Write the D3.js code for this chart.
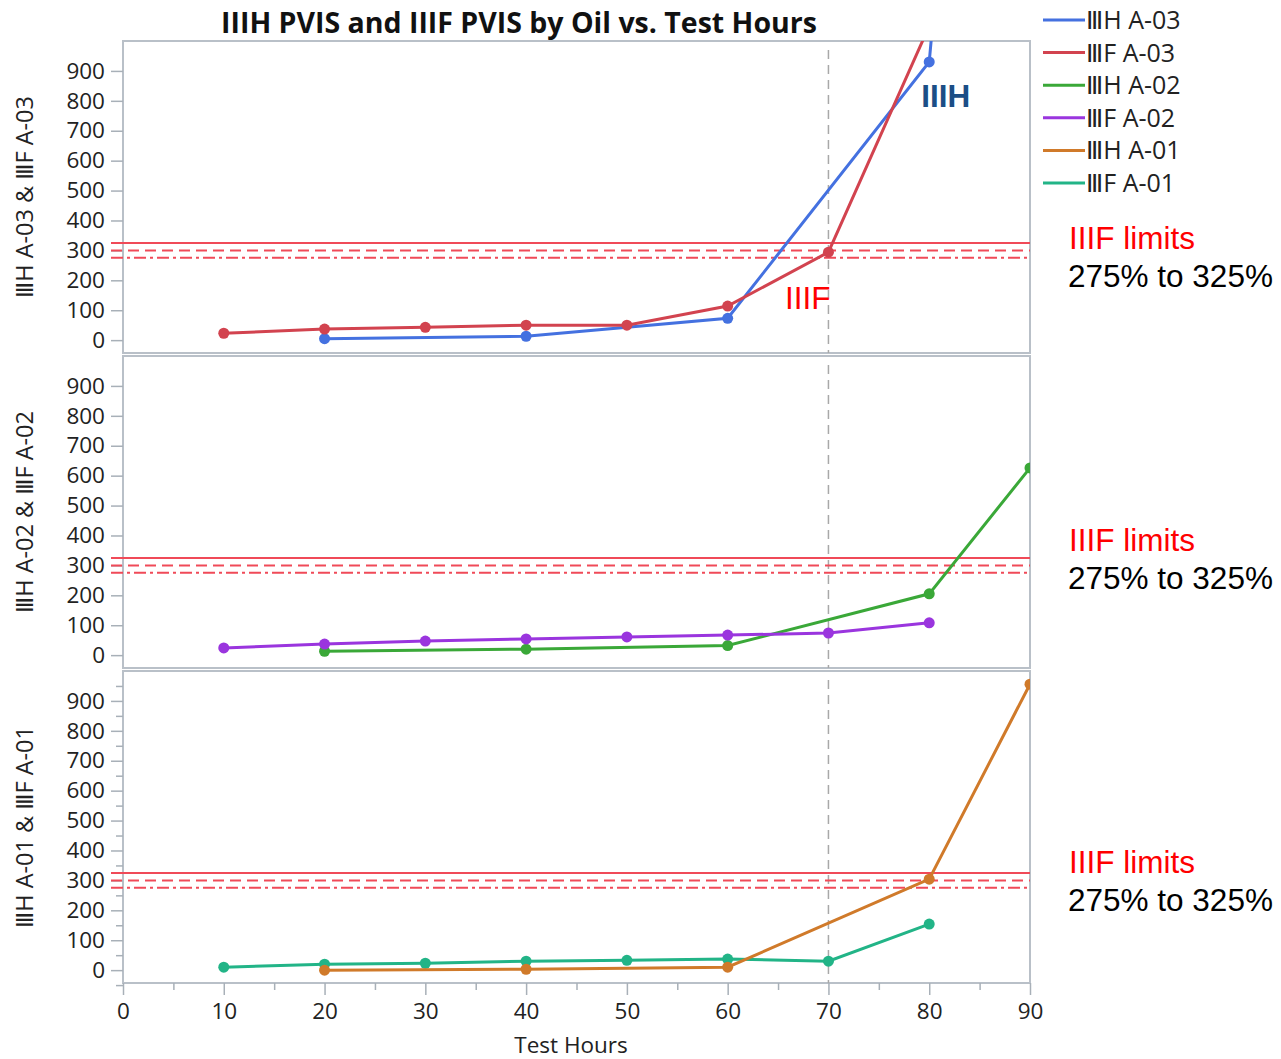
<!DOCTYPE html>
<html>
<head>
<meta charset="utf-8">
<script src="https://cdn.jsdelivr.net/npm/d3@7"></script>
<style>
  body { margin: 0; background: #fff; }
  svg { display: block; }
</style>
</head>
<body>
<div id="chart"></div>
<script>
// Data (Test Hours vs. PVIS %)
const title = 'IIIH PVIS and IIIF PVIS by Oil vs. Test Hours'
const xTicks = [0, 10, 20, 30, 40, 50, 60, 70, 80, 90]
const yTicks = [0, 100, 200, 300, 400, 500, 600, 700, 800, 900]
const limitValues = [325, 300, 275]

const iiihA03Hours = [20, 40, 60, 80, 81]
const iiihA03Values = [5, 13, 73, 930, 1300]
const iiifA03Hours = [10, 20, 30, 40, 50, 60, 70, 80]
const iiifA03Values = [23, 37, 43, 50, 50, 114, 294, 1050]

const iiihA02Hours = [20, 40, 60, 80, 90]
const iiihA02Values = [13, 20, 32, 205, 626]
const iiifA02Hours = [10, 20, 30, 40, 50, 60, 70, 80]
const iiifA02Values = [24, 37, 47, 54, 61, 67, 74, 108]

const iiihA01Hours = [20, 40, 60, 80, 90]
const iiihA01Values = [0, 3, 10, 304, 956]
const iiifA01Hours = [10, 20, 30, 40, 50, 60, 70, 80]
const iiifA01Values = [10, 20, 23, 30, 33, 37, 30, 154]

const seriesNames = ['ⅢH A-03', 'ⅢF A-03', 'ⅢH A-02', 'ⅢF A-02', 'ⅢH A-01', 'ⅢF A-01']
const seriesColors = ['#4471e0', '#d2434f', '#3aa838', '#9a35de', '#d07a2a', '#22b487']

const zip = (xs, ys) => xs.map((x, i) => ({ x, y: ys[i] }))

const panels = [
  { label: 'ⅢH A-03 & ⅢF A-03', minor: false, noteShift: 0,
    series: [{ data: zip(iiihA03Hours, iiihA03Values), color: seriesColors[0] },
             { data: zip(iiifA03Hours, iiifA03Values), color: seriesColors[1] }] },
  { label: 'ⅢH A-02 & ⅢF A-02', minor: false, noteShift: -13,
    series: [{ data: zip(iiihA02Hours, iiihA02Values), color: seriesColors[2] },
             { data: zip(iiifA02Hours, iiifA02Values), color: seriesColors[3] }] },
  { label: 'ⅢH A-01 & ⅢF A-01', minor: true, noteShift: -6,
    series: [{ data: zip(iiifA01Hours, iiifA01Values), color: seriesColors[5] },
             { data: zip(iiihA01Hours, iiihA01Values), color: seriesColors[4] }] }
]

const width = 1281
const height = 1059
const left = 123
const right = 1030
const panelTops = [41, 356, 671]
const panelHeight = 312
const font = '"Open Sans", "DejaVu Sans", sans-serif'
const arial = '"Liberation Sans", Arial, sans-serif'

const svg = d3.select('#chart')
  .append('svg')
  .attr('width', width)
  .attr('height', height)
  .style('font-family', font)

const x = d3.scaleLinear().domain([0, 90]).range([left, right])

// Title
svg.append('text')
  .attr('x', 519)
  .attr('y', 33)
  .attr('text-anchor', 'middle')
  .attr('font-size', '28.5px')
  .attr('font-weight', 'bold')
  .attr('fill', '#111')
  .text(title)

const defs = svg.append('defs')

panels.forEach((p, i) => {
  const top = panelTops[i]
  const bottom = top + panelHeight
  const y = d3.scaleLinear().domain([-43, 1000]).range([bottom, top])
  const g = svg.append('g')

  defs.append('clipPath')
    .attr('id', 'clip' + i)
    .append('rect')
    .attr('x', left)
    .attr('y', top)
    .attr('width', right - left)
    .attr('height', panelHeight)

  // Frame
  g.append('rect')
    .attr('x', left)
    .attr('y', top)
    .attr('width', right - left)
    .attr('height', panelHeight)
    .attr('fill', 'none')
    .attr('stroke', '#b9c0c8')
    .attr('stroke-width', 2)

  // Y axis
  const yAxis = g.append('g')
    .attr('transform', `translate(${left},0)`)
    .call(d3.axisLeft(y).tickValues(yTicks).tickSize(12).tickPadding(6))
  yAxis.select('.domain').remove()
  yAxis.selectAll('line').attr('stroke', '#a8b0b8').attr('stroke-width', 1.5)
  yAxis.selectAll('text')
    .attr('font-size', '22.5px')
    .attr('font-family', font)
    .attr('fill', '#222')

  if (p.minor) {
    const minorAxis = g.append('g')
      .attr('transform', `translate(${left},0)`)
      .call(d3.axisLeft(y).tickValues(d3.range(-50, 1000, 100)).tickSize(7).tickFormat(''))
    minorAxis.select('.domain').remove()
    minorAxis.selectAll('line').attr('stroke', '#a8b0b8').attr('stroke-width', 1.5)
  }

  // Y label
  svg.append('text')
    .attr('transform', `translate(33,${top + panelHeight / 2}) rotate(-90)`)
    .attr('text-anchor', 'middle')
    .attr('font-size', '23.5px')
    .attr('fill', '#222')
    .text(p.label)

  // Reference line at 70 hours
  g.append('line')
    .attr('x1', x(70))
    .attr('x2', x(70))
    .attr('y1', top + 9)
    .attr('y2', bottom)
    .attr('stroke', '#a8a8a8')
    .attr('stroke-width', 1.5)
    .attr('stroke-dasharray', '9,6')

  // IIIF limit lines
  const limitDash = [null, '11,6', '12,4,3,4']
  limitValues.forEach((v, k) => {
    g.append('line')
      .attr('x1', left - 12)
      .attr('x2', right)
      .attr('y1', y(v))
      .attr('y2', y(v))
      .attr('stroke', '#f04a58')
      .attr('stroke-width', 2)
      .attr('stroke-dasharray', limitDash[k])
  })

  // Series
  const plot = g.append('g').attr('clip-path', `url(#clip${i})`)
  const line = d3.line().x(d => x(d.x)).y(d => y(d.y))
  p.series.forEach(s => {
    plot.append('path')
      .datum(s.data)
      .attr('fill', 'none')
      .attr('stroke', s.color)
      .attr('stroke-width', 3)
      .attr('d', line)
    plot.selectAll(null)
      .data(s.data.filter(d => d.y <= 1000))
      .enter()
      .append('circle')
      .attr('cx', d => x(d.x))
      .attr('cy', d => y(d.y))
      .attr('r', 5.5)
      .attr('fill', s.color)
  })

  // Limit annotation
  svg.append('text')
    .attr('x', 1069)
    .attr('y', y(300) - 1 + p.noteShift)
    .attr('font-family', arial)
    .attr('font-size', '31.5px')
    .attr('fill', '#ff0000')
    .text('IIIF limits')
  svg.append('text')
    .attr('x', 1068)
    .attr('y', y(300) + 37 + p.noteShift)
    .attr('font-family', arial)
    .attr('font-size', '31.5px')
    .attr('fill', '#000')
    .text('275% to 325%')
})

// X axis on bottom panel
const xBottom = panelTops[2] + panelHeight
const xAxis = svg.append('g')
  .attr('transform', `translate(0,${xBottom})`)
  .call(d3.axisBottom(x).tickValues(xTicks).tickSize(12).tickPadding(8))
xAxis.select('.domain').remove()
xAxis.selectAll('line').attr('stroke', '#a8b0b8').attr('stroke-width', 1.5)
xAxis.selectAll('text')
  .attr('font-size', '22.5px')
  .attr('font-family', font)
  .attr('fill', '#222')
const xMinor = svg.append('g')
  .attr('transform', `translate(0,${xBottom})`)
  .call(d3.axisBottom(x).tickValues(d3.range(5, 90, 10)).tickSize(7).tickFormat(''))
xMinor.select('.domain').remove()
xMinor.selectAll('line').attr('stroke', '#a8b0b8').attr('stroke-width', 1.5)

svg.append('text')
  .attr('x', 571)
  .attr('y', 1053)
  .attr('text-anchor', 'middle')
  .attr('font-size', '22.5px')
  .attr('fill', '#222')
  .text('Test Hours')

// In-plot labels (top panel)
const yTop = d3.scaleLinear().domain([-43, 1000]).range([panelTops[0] + panelHeight, panelTops[0]])
svg.append('text')
  .attr('x', x(79.2))
  .attr('y', yTop(780))
  .attr('font-family', arial)
  .attr('font-size', '31.5px')
  .attr('font-weight', 'bold')
  .attr('fill', '#1b4e86')
  .text('IIIH')
svg.append('text')
  .attr('x', x(65.7))
  .attr('y', yTop(105))
  .attr('font-family', arial)
  .attr('font-size', '31.5px')
  .attr('fill', '#ff0000')
  .text('IIIF')

// Legend
const legend = svg.append('g').attr('transform', 'translate(1043,20)')
seriesNames.forEach((name, i) => {
  const row = legend.append('g').attr('transform', `translate(0,${i * 32.6})`)
  row.append('line')
    .attr('x1', 0)
    .attr('x2', 42)
    .attr('stroke', seriesColors[i])
    .attr('stroke-width', 3)
  row.append('text')
    .attr('x', 43)
    .attr('y', 9)
    .attr('font-size', '25px')
    .attr('fill', '#222')
    .text(name)
})
</script>
</body>
</html>
